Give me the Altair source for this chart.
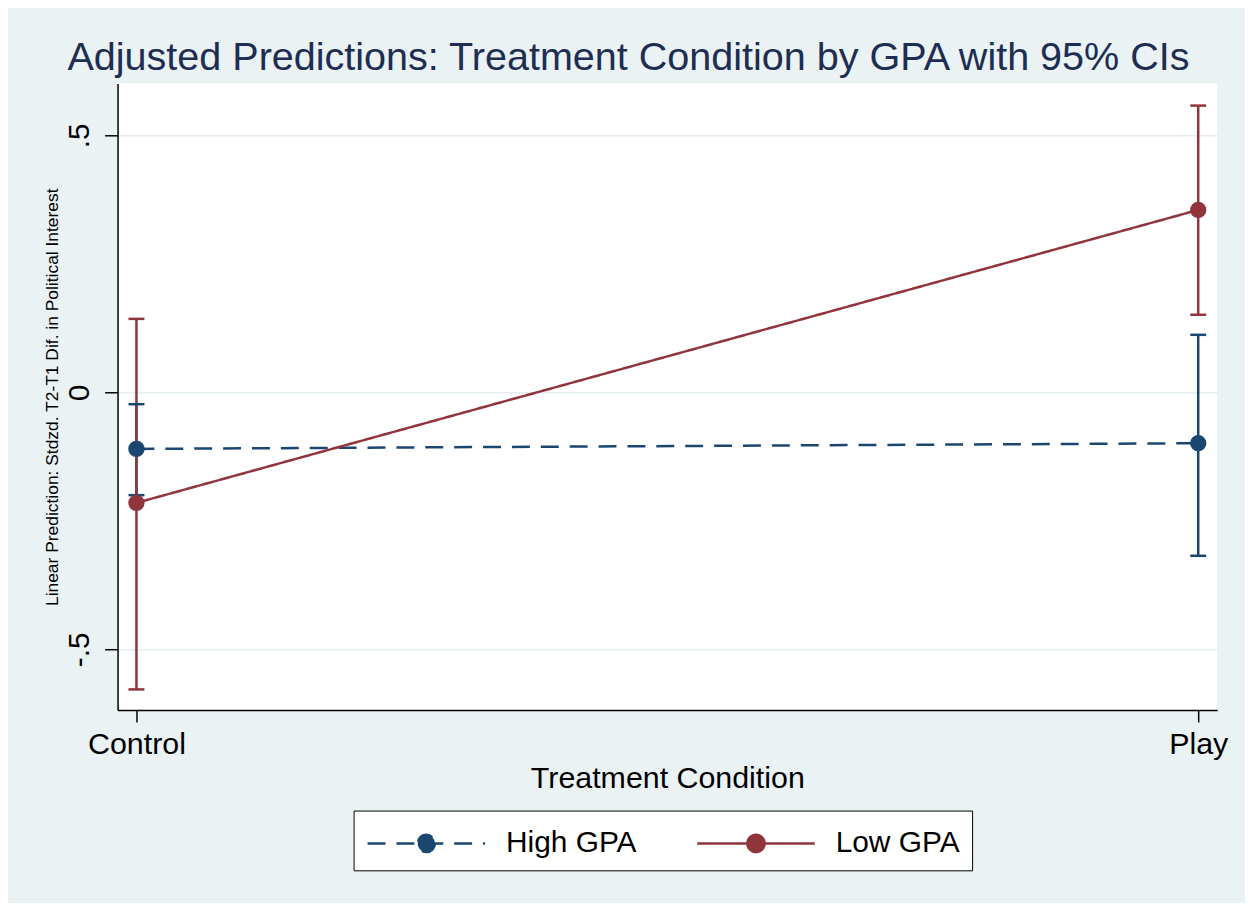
import altair as alt
import pandas as pd

# ---- data ----
conditions = ["Control", "Play"]
groups = ["High GPA", "Low GPA"]
high_margin = [-0.110, -0.099]
high_lower = [-0.200, -0.318]
high_upper = [-0.023, 0.112]
low_margin = [-0.215, 0.355]
low_lower = [-0.578, 0.151]
low_upper = [0.143, 0.558]

colors = ["#1a476f", "#90353b"]
dashes = [[18, 11], [1, 0]]

rows = []
for g, m, lo, hi in [(groups[0], high_margin, high_lower, high_upper),
                     (groups[1], low_margin, low_lower, low_upper)]:
    for c, mv, l, h in zip(conditions, m, lo, hi):
        rows.append({"condition": c, "group": g, "margin": mv, "lower": l, "upper": h})
df = pd.DataFrame(rows)

FONT = "Liberation Sans"
YTITLE = "Linear Prediction: Stdzd. T2-T1 Dif. in Political Interest"

x_enc = alt.X(
    "condition:N",
    scale=alt.Scale(type="point", domain=conditions, padding=0.0178),
    axis=alt.Axis(
        title="Treatment Condition", labelAngle=0, labelFontSize=30.5, labelFont=FONT,
        labelColor="black", labelPadding=8, tickSize=12, tickWidth=1.5, tickColor="black",
        domainColor="black", domainWidth=1.5, grid=False, titleFontSize=30.5,
        titleFont=FONT, titleFontWeight="normal", titleColor="black", titlePadding=3,
    ),
)

y_scale = alt.Scale(domain=[-0.618, 0.601], nice=False, zero=False)
y_axis = alt.Axis(
    values=[-0.5, 0, 0.5], labelExpr="replace(toString(datum.value), '0.', '.')",
    labelAngle=270, labelAlign="center", labelBaseline="bottom", labelFontSize=30,
    labelFont=FONT, labelColor="black", labelPadding=10, tickSize=13, tickWidth=1.5,
    tickColor="black", domainColor="black", domainWidth=1.5, grid=True,
    gridColor="#e4eeef", gridWidth=1.5, titleFontSize=17.5, titleFont=FONT,
    titleFontWeight="normal", titleColor="black", titlePadding=3,
)

# legend key: a line with a dot in its middle (path spans -3..3, scaled by sqrt(size)/2)
legend_path = ("M-3,0H3M0.44,0A0.44,0.44,0,1,1,-0.44,0"
               "A0.44,0.44,0,1,1,0.44,0Z")
legend = alt.Legend(
    title=None, orient="none", legendX=237, legendY=730, direction="horizontal",
    symbolType=legend_path, symbolSize=1547, symbolStrokeWidth=2.5, symbolOpacity=1,
    symbolOffset=40, labelFontSize=30, labelFont=FONT, labelColor="black",
    labelOffset=59, columnPadding=55, padding=12, strokeColor="black", fillColor="white",
)
color_enc = alt.Color("group:N", scale=alt.Scale(domain=groups, range=colors), legend=legend)
dash_enc = alt.StrokeDash("group:N", scale=alt.Scale(domain=groups, range=dashes), legend=legend)

base = alt.Chart(df)

ci = base.mark_rule(strokeWidth=2.5).encode(
    x=x_enc,
    y=alt.Y("lower:Q", scale=y_scale, axis=y_axis, title=YTITLE),
    y2="upper:Q",
    color=color_enc,
)

caps = base.transform_fold(["lower", "upper"], as_=["bound", "val"]).mark_tick(
    thickness=2.5, size=16, opacity=1
).encode(
    x=x_enc,
    y=alt.Y("val:Q", scale=y_scale, axis=y_axis, title=YTITLE),
    color=color_enc,
    detail="bound:N",
)

lines = base.mark_line(strokeWidth=2.5).encode(
    x=x_enc,
    y=alt.Y("margin:Q", scale=y_scale, axis=y_axis, title=YTITLE),
    color=color_enc,
    strokeDash=dash_enc,
)

points = base.mark_point(filled=True, size=270, opacity=1).encode(
    x=x_enc,
    y=alt.Y("margin:Q", scale=y_scale, axis=y_axis, title=YTITLE),
    color=color_enc,
)

chart = alt.layer(ci, caps, lines, points).properties(
    width=1104,
    height=629,
    autosize=alt.AutoSizeParams(type="none"),
    padding={"left": 110, "top": 74, "right": 28, "bottom": 192},
    background="#eaf2f3",
    title=alt.TitleParams(
        "Adjusted Predictions: Treatment Condition by GPA with 95% CIs",
        fontSize=39.7, font=FONT, fontWeight="normal", color="#1e2d52",
        anchor="middle", dx=-39, dy=36, offset=10, baseline="alphabetic",
    ),
).configure_view(stroke=None, fill="white")

chart.save("out.html", embed_options={"renderer": "svg", "actions": False})
